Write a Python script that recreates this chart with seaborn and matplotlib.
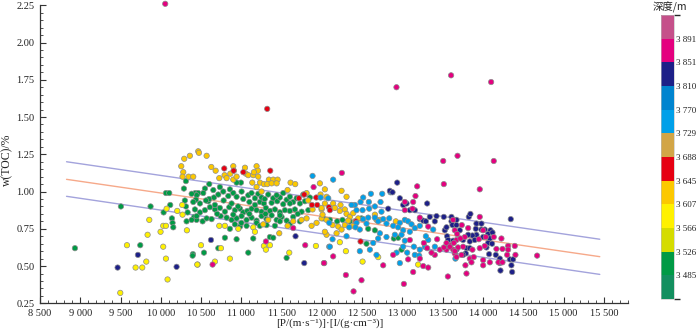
import numpy as np
import pandas as pd
import matplotlib
matplotlib.use("Agg")
import matplotlib.pyplot as plt
import matplotlib.colors as mcolors
import matplotlib.cm as cm
from matplotlib.ticker import MultipleLocator, FuncFormatter
import seaborn as sns

# ---------------- data ----------------
# depth groups (m) -> (x = P*I, y = w(TOC)%)
green_pts = [
    (10312, 1.07), (10287, 1.02), (10064, 0.99), (10105, 0.99), (10428, 0.99), (10299, 0.94),
    (9505, 0.90), (9873, 0.90), (10117, 0.91), (10312, 0.90), (10333, 0.86), (10035, 0.86),
    (10415, 0.83), (10138, 0.82), (10320, 0.80), (10444, 0.81), (10146, 0.79), (10155, 0.76),
    (8934, 0.62), (9745, 0.64), (10399, 0.58),
    (10602, 1.05), (10548, 1.02), (10652, 1.01), (10465, 0.99), (10445, 0.975), (10436, 0.945),
    (10486, 0.92), (10590, 0.935), (10660, 0.96), (10714, 0.98), (10776, 1.00), (10858, 1.015),
    (10838, 0.97), (10900, 0.99), (10941, 0.965), (10995, 1.06), (11003, 1.00), (11024, 0.95),
    (11086, 0.975), (11127, 0.99), (11169, 0.955), (11210, 0.985), (11231, 0.93), (11251, 0.96),
    (11280, 0.92), (11334, 0.98), (11376, 0.925), (11396, 0.955), (11446, 0.935), (11479, 0.96),
    (11520, 0.915), (11562, 0.945), (11603, 0.965), (11644, 0.93), (11686, 0.955), (11727, 0.92),
    (11789, 0.935), (11851, 0.96),
    (10424, 0.88), (10486, 0.86), (10548, 0.875), (10610, 0.895), (10672, 0.88), (10734, 0.89),
    (10796, 0.865), (10850, 0.895), (10920, 0.875), (10983, 0.885), (11024, 0.86), (11074, 0.87),
    (11127, 0.885), (11189, 0.875), (11251, 0.865), (11305, 0.89), (11355, 0.87), (11417, 0.88),
    (11479, 0.86), (11541, 0.875), (11603, 0.87), (11665, 0.88), (11748, 0.865), (11831, 0.875),
    (10383, 0.81), (10445, 0.835), (10519, 0.80), (10569, 0.82), (10631, 0.815), (10743, 0.835),
    (10817, 0.825), (10879, 0.81), (10941, 0.82), (11003, 0.835), (11065, 0.81), (11127, 0.825),
    (11189, 0.805), (11251, 0.835), (11313, 0.815), (11376, 0.84), (11438, 0.81), (11500, 0.83),
    (11562, 0.805), (11644, 0.83), (11727, 0.80),
    (10858, 0.75), (10920, 0.78), (10983, 0.765), (11065, 0.77), (11189, 0.79), (11313, 0.775),
    (11417, 0.77), (11479, 0.80),
    (10796, 0.69), (10941, 0.68), (11148, 0.685), (11355, 0.695), (11396, 0.69),
    (10395, 0.57), (10536, 0.59), (10714, 0.62), (11086, 0.59), (11562, 0.555),
    (10941, 1.06), (10734, 1.03), (10527, 0.99), (10383, 0.985), (10403, 0.93), (11438, 0.975),
    (11603, 0.92), (11769, 0.98), (11169, 0.91), (10879, 0.92), (10672, 0.91),
    (10600, 0.95), (10780, 0.94), (10960, 0.90), (11100, 0.93), (11290, 0.95), (11520, 0.99),
    (10700, 0.85), (10900, 0.845), (11100, 0.85), (11300, 0.85), (11480, 0.84), (11700, 0.85),
    (10560, 0.94), (11000, 0.79), (11230, 0.77), (11600, 0.78),
    (12099, 0.81), (12016, 0.82), (12190, 0.80), (12256, 0.81), (12347, 0.80), (12492, 0.82),
    (12575, 0.75), (12658, 0.74), (12893, 0.685), (12947, 0.69), (12554, 0.65), (12989, 0.61),
]

yellow_pts = [
    (9857, 0.81), (10030, 0.77), (10064, 0.77), (9997, 0.73), (10324, 0.74), (9836, 0.71),
    (9580, 0.64), (10030, 0.63), (9820, 0.53), (10064, 0.55), (10457, 0.51), (9687, 0.49),
    (9770, 0.49), (10084, 0.41), (9497, 0.32), (10072, 0.885), (10204, 0.87), (10266, 0.91),
    (10270, 0.845), (10747, 0.62), (10499, 0.64), (10858, 0.55), (10672, 0.53), (10453, 0.51),
    (11280, 0.635), (11305, 0.61), (11355, 0.64), (10726, 0.77), (10796, 0.77), (10962, 0.75),
    (11148, 0.76), (11169, 0.73), (11595, 0.59), (11926, 0.635), (12223, 0.66), (12298, 0.60),
    (12505, 0.53), (12699, 0.56), (13195, 0.51),
]

amber_pts = [
    (10465, 1.27), (10361, 1.24), (10291, 1.22), (10254, 1.17), (10279, 1.13), (10270, 1.10),
    (10345, 1.10), (10403, 1.10), (10474, 1.26), (10569, 1.24), (10627, 1.165), (10681, 1.14),
    (10900, 1.17), (10908, 1.14), (11045, 1.16), (11189, 1.17), (11206, 1.14), (10792, 1.11),
    (10863, 1.12), (10726, 1.09), (10817, 1.09), (10900, 1.08), (10941, 1.10), (11057, 1.12),
    (11086, 1.11), (11148, 1.11), (11156, 1.13), (11210, 1.10), (11342, 1.08), (11396, 1.08),
    (11450, 1.08), (11136, 1.06), (11231, 1.06), (11280, 1.05), (11322, 1.05), (11376, 1.055),
    (11438, 1.055), (11611, 1.06), (11669, 1.05), (11189, 1.03), (11251, 1.00), (11574, 1.01),
    (11810, 0.99), (11831, 0.94), (11884, 0.88), (11996, 0.88), (12037, 0.92), (11996, 0.82),
    (11272, 0.78), (11334, 0.81), (11471, 0.72), (11574, 0.77), (11644, 0.80), (11748, 0.81),
    (11810, 0.82), (11872, 0.77), (11934, 0.79), (12058, 0.71),
    (12037, 1.015), (11975, 1.055), (12244, 1.005), (12306, 0.965), (11983, 0.98), (12058, 0.965),
    (12140, 0.92), (12161, 0.89), (12231, 0.91), (12223, 0.87), (12285, 0.88), (12306, 0.85),
    (12347, 0.83), (12389, 0.855), (11996, 0.89), (12008, 0.845), (12058, 0.81), (12132, 0.775),
    (12203, 0.765), (12244, 0.745), (12285, 0.775), (12389, 0.77), (12409, 0.80), (12451, 0.82),
    (12327, 0.805), (12182, 0.72), (12037, 0.73), (12918, 0.80), (12720, 0.81), (12678, 0.81),
    (12658, 0.845),
]

red_pts = [
    (10788, 1.155), (10904, 1.14), (11024, 1.13), (11359, 1.14), (11781, 0.98), (11930, 0.96),
    (11942, 0.91), (11876, 0.91), (11715, 0.955), (12087, 0.895), (12099, 0.875), (12422, 0.80),
    (12480, 0.665), (11321, 1.555),
]

cyan_pts = [
    (11884, 1.105), (11984, 0.96), (12079, 0.955), (12091, 0.63),
    (12140, 1.08), (12608, 0.985), (12749, 0.985), (12852, 0.995), (12728, 0.93), (12583, 0.93),
    (12513, 0.96), (12480, 0.93), (12409, 0.91), (12368, 0.91), (12430, 0.875), (12505, 0.875),
    (12587, 0.885), (12658, 0.90), (12740, 0.865), (12658, 0.825), (12575, 0.825), (12513, 0.815),
    (12430, 0.79), (12418, 0.76), (12471, 0.745), (12554, 0.785), (12699, 0.80), (12761, 0.815),
    (12802, 0.785), (12836, 0.82), (12885, 0.77), (12968, 0.79), (13030, 0.81), (13071, 0.80),
    (13113, 0.78), (13009, 0.74), (12947, 0.76), (12906, 0.71), (12989, 0.71), (13092, 0.73),
    (13154, 0.755), (13216, 0.77), (13030, 0.67), (12927, 0.59), (13009, 0.63), (13059, 0.59),
    (13142, 0.63), (13216, 0.61), (13154, 0.575), (13208, 0.57), (13278, 0.63), (13320, 0.675),
    (13402, 0.63), (13382, 0.745), (13291, 0.70), (12099, 0.63), (12091, 0.79), (12132, 0.68),
    (12339, 0.76), (12306, 0.70), (12637, 0.655), (12699, 0.685), (12802, 0.695), (12720, 0.72),
    (12596, 0.61), (12471, 0.60), (12678, 0.575), (12968, 0.52), (13658, 0.55),
]

navy_pts = [
    (9716, 0.575), (9464, 0.49), (10196, 0.495), (10623, 0.675), (11673, 0.70), (11781, 0.52),
    (12935, 1.06), (12844, 1.005), (12877, 0.995), (12968, 0.955), (13009, 0.91), (13051, 0.92),
    (13092, 0.875), (13154, 0.875), (13216, 0.815), (13258, 0.805), (13307, 0.92), (13340, 0.83),
    (13291, 0.80), (13402, 0.80), (13423, 0.835), (13514, 0.83), (13526, 0.74), (13547, 0.76),
    (13555, 0.70), (13609, 0.80), (13621, 0.775), (13671, 0.81), (13568, 0.675), (13630, 0.67),
    (13671, 0.61), (13568, 0.635), (12823, 0.885),
    (14345, 0.815), (13824, 0.83), (13844, 0.85), (13919, 0.785), (13981, 0.785), (13911, 0.75),
    (13981, 0.745), (14022, 0.745), (14093, 0.74), (14064, 0.715), (14118, 0.725), (13919, 0.71),
    (13869, 0.705), (13816, 0.71), (13671, 0.775), (13712, 0.74), (13753, 0.675), (13836, 0.665),
    (13898, 0.675), (14002, 0.695), (14085, 0.685), (14064, 0.655), (14043, 0.625), (14113, 0.65),
    (13795, 0.62), (13836, 0.62), (13787, 0.585), (13753, 0.575), (14076, 0.58), (14159, 0.575),
    (14209, 0.55), (14209, 0.52), (14333, 0.545), (14374, 0.545), (14353, 0.505), (14362, 0.46),
    (14217, 0.47), (13609, 0.83),
]

magenta_pts = [
    (10055, 2.26), (12926, 1.70), (13604, 1.78), (14101, 1.735),
    (11897, 1.03), (11305, 0.665), (11644, 0.755), (11793, 0.64), (10643, 0.51), (12029, 0.52),
    (12248, 1.125), (13684, 1.24), (13506, 1.205), (13514, 1.05), (13183, 1.035), (13030, 0.93),
    (13133, 0.93), (13162, 0.97), (13125, 0.885), (13030, 0.875), (13216, 0.825), (13320, 0.765),
    (13092, 0.675), (13266, 0.655), (13307, 0.62), (13402, 0.575), (13258, 0.50), (13320, 0.49),
    (13547, 0.61), (13597, 0.64), (13671, 0.675), (13650, 0.585), (13431, 0.68), (13464, 0.61),
    (13514, 0.625), (13547, 0.655), (13630, 0.61), (12761, 0.505), (12140, 0.565), (12025, 0.52),
    (12298, 0.44), (12492, 0.405), (12393, 0.33), (13018, 0.38), (13133, 0.46), (12885, 0.575),
    (13071, 0.545), (13216, 0.55), (13564, 0.43), (13361, 0.59),
    (14134, 1.205), (13960, 1.015), (13629, 0.81), (13737, 0.775), (13816, 0.755), (13650, 0.74),
    (13679, 0.715), (13774, 0.695), (13720, 0.685), (13948, 0.68), (13960, 0.83), (14002, 0.74),
    (14035, 0.695), (13960, 0.62), (14022, 0.635), (14134, 0.695), (13588, 0.63), (13638, 0.655),
    (13691, 0.625), (13650, 0.60), (13671, 0.56), (13733, 0.575), (13836, 0.55), (13886, 0.56),
    (13869, 0.61), (13753, 0.63), (14229, 0.685), (14312, 0.635), (14395, 0.635), (14312, 0.61),
    (14167, 0.615), (14242, 0.615), (14403, 0.575), (14300, 0.575), (14002, 0.54), (14085, 0.525),
    (14002, 0.505), (14192, 0.525), (14242, 0.525), (13782, 0.505), (13857, 0.525), (13795, 0.45),
    (14672, 0.57),
]

# representative depth (m) for each group
group_depths = {"green": 3505, "yellow": 3585, "amber": 3625, "red": 3665,
                "cyan": 3750, "navy": 3830, "magenta": 3870}

# colour bar classes (m) and colours (bottom -> top)
depth_bounds = [3445, 3485, 3526, 3566, 3607, 3645, 3688, 3729, 3770, 3810, 3851, 3891, 3932]
depth_colors = ["#138f5f", "#009a45", "#d5dc00", "#fff100", "#fcc800", "#e60012",
                "#d2a546", "#00a0e9", "#0084cf", "#1d2088", "#e4007f", "#c5508a"]
depth_ticks = [3485, 3526, 3566, 3607, 3645, 3688, 3729, 3770, 3810, 3851, 3891]

# regression line (centre) and band lines: (x, y) end points
line_x = [8830, 15450]
centre_y = [1.082, 0.563]
upper_y = [1.200, 0.680]
lower_y = [0.968, 0.444]

# ---------------- build table ----------------
groups = [("green", green_pts), ("yellow", yellow_pts), ("amber", amber_pts), ("red", red_pts),
          ("cyan", cyan_pts), ("navy", navy_pts), ("magenta", magenta_pts)]
rows = []
for name, pts in groups:
    for x, y in pts:
        rows.append({"pi": x, "toc": y, "depth": group_depths[name]})
df = pd.DataFrame(rows)

cmap = mcolors.ListedColormap(depth_colors)
norm = mcolors.BoundaryNorm(depth_bounds, cmap.N)
palette = {d: cmap(norm(d)) for d in sorted(df["depth"].unique())}

# ---------------- plot ----------------
sns.set_theme(style="ticks")
plt.rcParams["font.family"] = ["Liberation Serif", "DejaVu Serif"]
plt.rcParams["axes.unicode_minus"] = False

fig = plt.figure(figsize=(7.0, 3.35), dpi=100)
ax = fig.add_axes([0.0571, 0.0946, 0.84, 0.8896])

sns.scatterplot(data=df, x="pi", y="toc", hue="depth", palette=palette, legend=False,
                s=15, edgecolor="#8c8c8c", linewidth=0.5, ax=ax, zorder=3, clip_on=False)

sns.lineplot(x=line_x, y=upper_y, color="#a3a3dc", lw=1.0, ax=ax, zorder=2)
sns.lineplot(x=line_x, y=centre_y, color="#f6a98a", lw=1.0, ax=ax, zorder=2)
sns.lineplot(x=line_x, y=lower_y, color="#a3a3dc", lw=1.0, ax=ax, zorder=2)

ax.set_xlim(8500, 15800)
ax.set_ylim(0.25, 2.25)
ax.xaxis.set_major_locator(MultipleLocator(500))
ax.xaxis.set_minor_locator(MultipleLocator(100))
ax.yaxis.set_major_locator(MultipleLocator(0.25))
ax.yaxis.set_minor_locator(MultipleLocator(0.05))
ax.xaxis.set_major_formatter(FuncFormatter(lambda v, p: f"{int(round(v)):,}".replace(",", " ")))
ax.yaxis.set_major_formatter(FuncFormatter(lambda v, p: f"{v:.2f}"))

for sp in ["top", "right"]:
    ax.spines[sp].set_visible(False)
for sp in ["left", "bottom"]:
    ax.spines[sp].set_color("#333333")
    ax.spines[sp].set_linewidth(0.9)

ax.tick_params(axis="both", which="major", direction="in", length=4, width=0.8,
               color="#333333", labelsize=7.5, labelcolor="#222222", pad=4)
ax.tick_params(axis="both", which="minor", direction="in", length=2, width=0.6, color="#333333")

ax.set_xlabel("[P/(m·s⁻¹)]·[I/(g·cm⁻³)]", fontsize=8, color="#222222", va="top")
ax.xaxis.set_label_coords(0.493, -0.052)
ax.set_ylabel("w(TOC)/%", fontsize=8.5, color="#222222")
ax.yaxis.set_label_coords(-0.045, 0.48)

# colour bar
cax = fig.add_axes([0.944, 0.1075, 0.0186, 0.848])
sm = cm.ScalarMappable(norm=norm, cmap=cmap)
cb = fig.colorbar(sm, cax=cax, ticks=depth_ticks)
cb.ax.set_yticklabels([f"{t:,}".replace(",", " ") for t in depth_ticks])
cb.ax.tick_params(length=0, labelsize=6.5, labelcolor="#222222", pad=1.5)
cb.outline.set_linewidth(0.4)
cb.outline.set_edgecolor("#bbbbbb")

fig.text(0.957, 0.978, "深度/m", ha="center", va="center", fontsize=7.5, color="#222222",
         family=["Noto Sans CJK SC", "DejaVu Sans"])

fig.savefig("out.png", dpi=100)
